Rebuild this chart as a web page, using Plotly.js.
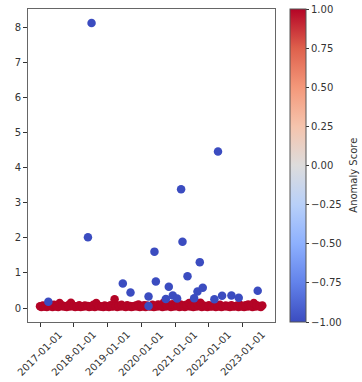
<!DOCTYPE html>
<html>
<head>
<meta charset="utf-8">
<script src="https://cdn.plot.ly/plotly-3.0.1.min.js"></script>
<style>html,body{margin:0;padding:0;background:#fff;}#chart{width:362px;height:382px;}</style>
</head>
<body>
<div id="chart"></div>
<script>
// values in units of 1e7
const normalDates = [
 "2017-01-01","2017-02-01","2017-03-01","2017-04-01","2017-05-01","2017-06-01","2017-07-01","2017-08-01","2017-09-01","2017-10-01","2017-11-01","2017-12-01",
 "2018-01-01","2018-02-01","2018-03-01","2018-04-01","2018-05-01","2018-06-01","2018-07-01","2018-08-01","2018-09-01","2018-10-01","2018-11-01","2018-12-01",
 "2019-01-01","2019-02-01","2019-03-18","2019-04-01","2019-05-01","2019-06-01","2019-07-01","2019-08-01","2019-09-01","2019-10-01","2019-11-01","2019-12-01",
 "2020-01-01","2020-02-01","2020-03-01","2020-04-01","2020-05-01","2020-06-01","2020-07-01","2020-08-01","2020-09-01","2020-10-01","2020-11-01","2020-12-01",
 "2021-01-01","2021-02-01","2021-03-01","2021-04-01","2021-05-01","2021-06-01","2021-07-01","2021-08-01","2021-09-01","2021-10-01","2021-11-01","2021-12-01",
 "2022-01-01","2022-02-01","2022-03-01","2022-04-01","2022-05-01","2022-06-01","2022-07-01","2022-08-01","2022-09-01","2022-10-01","2022-11-01","2022-12-01",
 "2023-01-01","2023-02-01","2023-03-01","2023-04-01","2023-05-01","2023-06-01","2023-07-01","2023-08-01"
];
const normalValues = [
 0.05,0.07,0.04,0.08,0.06,0.09,0.05,0.14,0.07,0.05,0.08,0.15,
 0.06,0.04,0.08,0.05,0.07,0.06,0.05,0.09,0.14,0.06,0.04,0.07,
 0.05,0.08,0.25,0.06,0.07,0.09,0.05,0.08,0.06,0.04,0.07,0.10,
 0.06,0.08,0.07,0.05,0.09,0.06,0.10,0.08,0.16,0.07,0.09,0.11,
 0.08,0.06,0.10,0.07,0.09,0.14,0.08,0.06,0.10,0.15,0.07,0.06,
 0.08,0.05,0.07,0.06,0.09,0.05,0.07,0.06,0.08,0.05,0.07,0.09,
 0.06,0.08,0.10,0.07,0.14,0.08,0.06,0.07
];
const normalDates2 = [
 "2017-01-16","2017-02-16","2017-03-16","2017-04-16","2017-05-16","2017-06-16","2017-07-16","2017-08-16","2017-09-16","2017-10-16","2017-11-16","2017-12-16",
 "2018-01-16","2018-02-16","2018-03-16","2018-04-16","2018-05-16","2018-06-16","2018-07-16","2018-08-16","2018-09-16","2018-10-16","2018-11-16","2018-12-16",
 "2019-01-16","2019-02-16","2019-03-01","2019-04-16","2019-05-16","2019-06-16","2019-07-16","2019-08-16","2019-09-16","2019-10-16","2019-11-16","2019-12-16",
 "2020-01-16","2020-02-16","2020-03-16","2020-04-16","2020-05-16","2020-06-16","2020-07-16","2020-08-16","2020-09-16","2020-10-16","2020-11-16","2020-12-16",
 "2021-01-16","2021-02-16","2021-03-16","2021-04-16","2021-05-16","2021-06-16","2021-07-16","2021-08-16","2021-09-16","2021-10-16","2021-11-16","2021-12-16",
 "2022-01-16","2022-02-16","2022-03-16","2022-04-16","2022-05-16","2022-06-16","2022-07-16","2022-08-16","2022-09-16","2022-10-16","2022-11-16","2022-12-16",
 "2023-01-16","2023-02-16","2023-03-16","2023-04-16","2023-05-16","2023-06-16","2023-07-16"
];
const normalValues2 = [
 0.03,0.04,0.03,0.05,0.03,0.04,0.03,0.05,0.04,0.03,0.04,0.05,
 0.03,0.04,0.03,0.04,0.05,0.03,0.04,0.03,0.05,0.04,0.03,0.04,
 0.03,0.05,0.04,0.03,0.04,0.05,0.03,0.04,0.03,0.05,0.04,0.03,
 0.04,0.03,0.05,0.04,0.03,0.04,0.05,0.03,0.04,0.05,0.03,0.04,
 0.05,0.03,0.04,0.03,0.05,0.04,0.03,0.04,0.05,0.03,0.04,0.03,
 0.04,0.05,0.03,0.04,0.03,0.05,0.04,0.03,0.04,0.05,0.03,0.04,
 0.03,0.04,0.05,0.03,0.04,0.05,0.03
];
const anomalyDates = [
 "2017-04-01","2018-06-03","2018-07-12","2019-06-15","2019-09-06","2020-03-19","2020-03-19",
 "2020-05-22","2020-06-06","2020-09-22","2020-10-24","2020-12-06","2021-01-22","2021-03-06",
 "2021-03-21","2021-05-14","2021-07-25","2021-08-30","2021-09-24","2021-10-26","2022-03-01",
 "2022-04-09","2022-05-23","2022-09-01","2022-11-19","2023-06-12"
];
const anomalyValues = [
 0.18,2.02,8.14,0.70,0.44,0.33,0.06,
 1.61,0.76,0.26,0.61,0.36,0.27,3.39,
 1.89,0.91,0.28,0.47,1.31,0.58,0.25,
 4.47,0.35,0.36,0.29,0.49
];
const normalScore = 1;
const anomalyScore = -1;
const yTicks = [0,1,2,3,4,5,6,7,8];
const xTicks = ["2017-01-01","2018-01-01","2019-01-01","2020-01-01","2021-01-01","2022-01-01","2023-01-01"];
const cbTicks = [-1,-0.75,-0.5,-0.25,0,0.25,0.5,0.75,1];

const coolwarm = [
 [0.0,"rgb(59,76,192)"],[0.125,"rgb(98,130,234)"],[0.25,"rgb(141,176,254)"],
 [0.375,"rgb(184,208,249)"],[0.5,"rgb(221,220,220)"],[0.625,"rgb(245,196,173)"],
 [0.75,"rgb(244,152,122)"],[0.875,"rgb(222,96,76)"],[1.0,"rgb(180,4,38)"]
];
const font = {family:"DejaVu Sans", size:10, color:"#333"};

function mk(x, y, score, showscale){
  return {
    type:"scatter", mode:"markers", x:x, y:y, hoverinfo:"skip", cliponaxis:false,
    marker:{size:8.5, color:x.map(()=>score), colorscale:coolwarm, cmin:-1, cmax:1,
      line:{width:0}, showscale:showscale,
      colorbar: showscale ? {
        x:1.0607, xanchor:"left", xpad:0, y:0.5, yanchor:"middle", len:1, lenmode:"fraction",
        thickness:16, thicknessmode:"pixels", outlinewidth:1, outlinecolor:"#555",
        ticks:"outside", ticklen:3, tickcolor:"#333", tickwidth:1,
        tickvals:cbTicks, tickformat:".2f", tickfont:font, ypad:0
      } : undefined}
  };
}
const data = [
  mk(normalDates2, normalValues2, normalScore, false),
  mk(normalDates, normalValues, normalScore, false),
  mk(anomalyDates, anomalyValues, anomalyScore, true)
];
const xLabelAnns = xTicks.map(t => ({
  text:t, xref:"x", yref:"paper", x:t, y:0, xanchor:"center", yanchor:"top",
  yshift:-6, textangle:-45, showarrow:false, font:font, borderpad:0
}));
const layout = {
  width:362, height:382, margin:{l:28, r:87, t:9, b:60},
  paper_bgcolor:"#fff", plot_bgcolor:"#fff", showlegend:false, font:font,
  xaxis:{type:"date", range:["2016-08-24","2023-12-16"], tickvals:xTicks, showticklabels:false,
    ticks:"outside", ticklen:4, tickcolor:"#333", showgrid:false, zeroline:false,
    showline:true, mirror:true, linecolor:"#666", linewidth:1},
  yaxis:{range:[-0.4,8.54], tickvals:yTicks, ticks:"outside", ticklen:4, tickcolor:"#333",
    showgrid:false, zeroline:false, showline:true, mirror:true, linecolor:"#666", linewidth:1, tickfont:font},
  annotations:[
    {text:"Anomaly Score", xref:"paper", yref:"paper", x:1.319, y:0.47, textangle:-90,
     showarrow:false, font:font, xanchor:"center", yanchor:"middle"},
    {text:"1e7", xref:"paper", yref:"paper", x:0, y:1, xanchor:"left", yanchor:"bottom",
     yshift:5, showarrow:false, font:font}
  ].concat(xLabelAnns)
};
Plotly.newPlot("chart", data, layout, {staticPlot:true});
</script>
</body>
</html>
